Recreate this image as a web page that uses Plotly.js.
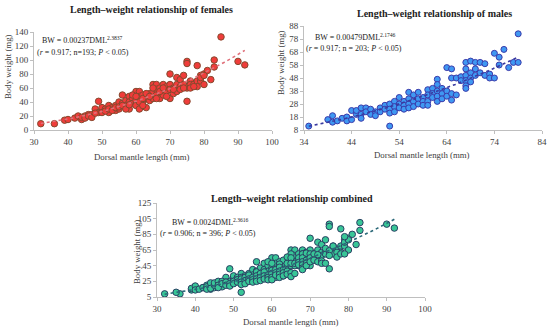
<!DOCTYPE html>
<html>
<head>
<meta charset="utf-8">
<script src="https://cdn.plot.ly/plotly-3.0.1.min.js"></script>
<style>html,body{margin:0;padding:0;background:#fff;}#chart{width:550px;height:331px;}</style>
</head>
<body>
<div id="chart"></div>
<script>
// ---- Data ----
var femaleDML = [32,36,39,40,42,43,44,45,46,47,48,49,49,50,50,51,52,52,53,54,54,55,55,56,56,57,57,58,58,58,59,59,60,60,60,61,61,61,62,62,63,63,64,64,65,65,65,66,66,66,67,67,68,68,68,69,69,70,70,70,70,71,71,72,72,72,73,73,74,74,75,75,75,75,76,76,77,78,78,78,79,79,80,80,81,82,83,83,85,90,92,
  44,45,46,47,48,50,51,52,53,54,55,56,57,58,59,60,61,62,62,63,64,65,66,67,68,69,71,73,74,76,77,79,80];
var femaleBW = [9,9,14,15,17,20,15,20,22,22,30,41,25,28,32,30,35,25,32,28,35,40,30,50,38,42,35,48,40,30,45,38,55,42,35,55,48,30,50,40,45,32,52,42,65,55,45,65,58,50,60,45,65,55,50,62,55,80,65,58,45,60,52,75,65,55,72,62,78,65,98,95,60,41,70,65,65,92,70,62,78,70,80,65,85,72,100,90,133,98,93,
  18,17,20,18,24,25,27,30,28,32,33,35,30,36,50,48,40,45,35,52,48,60,45,55,60,48,58,58,60,60,62,75,78];

var maleDML = [35,39,40,40,41,42,43,43,44,44,45,45,46,46,46,47,47,48,48,49,49,50,50,51,51,52,52,52,52,53,53,53,54,54,54,55,55,55,56,56,56,56,57,57,57,58,58,58,59,59,59,60,60,60,60,61,61,61,62,62,62,62,62,63,63,63,64,64,64,65,65,65,65,66,66,67,67,68,68,68,68,68,68,69,69,69,69,70,70,70,71,71,72,72,73,73,74,74,75,75,76,77,78,79,79];
var maleBW  = [11,16,19,14,15,17,18,15,23,16,20,23,25,20,17,25,22,24,20,22,19,25,22,27,24,28,24,21,11,30,26,22,33,28,25,30,27,24,37,32,28,25,35,30,26,37,32,28,33,30,27,39,35,30,27,40,36,33,47,43,38,34,30,40,36,32,56,38,34,55,48,36,31,48,35,49,46,60,55,50,46,42,40,61,52,48,45,60,55,50,60,52,59,50,51,48,67,48,64,58,70,56,60,82,60];

// Fitted equations shown on the chart: BW = a * DML^b
var femaleFit = {a: 0.00237, b: 2.3837, from: 32, to: 92};
var maleFit   = {a: 0.00479, b: 2.1746, from: 35, to: 79};
var allFit    = {a: 0.0024,  b: 2.3616, from: 32, to: 92};

var titles = ["Length–weight relationship of females", "Length–weight relationship of males", "Length–weight relationship combined"];
var eqLines = [
  ["BW = 0.00237DML<sup>2.3837</sup>", "(<i>r</i> = 0.917; n=193; <i>P</i> &lt; 0.05)"],
  ["BW = 0.00479DML<sup>2.1746</sup>", "(<i>r</i> = 0.917; n = 203; <i>P</i> &lt; 0.05)"],
  ["BW = 0.0024DML<sup>2.3616</sup>", "(<i>r</i> = 0.906; n = 396; <i>P</i> &lt; 0.05)"]
];
var xLabel = "Dorsal mantle length (mm)";
var yLabel = "Body weight (mg)";

// combined = union of both sexes
var allDML = femaleDML.concat(maleDML);
var allBW  = femaleBW.concat(maleBW);

function fitLine(f){
  var xs=[], ys=[];
  for (var i=0;i<=40;i++){ var x=f.from+(f.to-f.from)*i/40; xs.push(x); ys.push(f.a*Math.pow(x,f.b)); }
  return {x:xs, y:ys};
}

var W=550, H=331;
function px(x){return x/W;}
function py(y){return 1-y/H;}

var serif = "Liberation Serif, Times New Roman, serif";
var fl = fitLine(femaleFit), ml = fitLine(maleFit), al = fitLine(allFit);

var traces = [
  {x:femaleDML, y:femaleBW, type:'scatter', mode:'markers', xaxis:'x', yaxis:'y',
   marker:{size:6.5, color:'#f03c3a', line:{color:'#85492e', width:1}}},
  {x:fl.x, y:fl.y, type:'scatter', mode:'lines', xaxis:'x', yaxis:'y',
   line:{color:'#e0707a', width:1.6, dash:'dot'}},
  {x:maleDML, y:maleBW, type:'scatter', mode:'markers', xaxis:'x2', yaxis:'y2',
   marker:{size:6, color:'#3f98f2', line:{color:'#3a3aaa', width:1}}},
  {x:ml.x, y:ml.y, type:'scatter', mode:'lines', xaxis:'x2', yaxis:'y2',
   line:{color:'#3a3aa0', width:1.6, dash:'dot'}},
  {x:allDML, y:allBW, type:'scatter', mode:'markers', xaxis:'x3', yaxis:'y3',
   marker:{size:6.5, color:'#38c697', line:{color:'#2b3f63', width:1}}},
  {x:al.x, y:al.y, type:'scatter', mode:'lines', xaxis:'x3', yaxis:'y3',
   line:{color:'#2a6878', width:1.6, dash:'dot'}}
];

function ax(domain, range, tick0, dtick, anchor){
  return {domain:domain, range:range, tick0:tick0, dtick:dtick, anchor:anchor,
    showgrid:false, zeroline:false, showline:true, linecolor:'#bfbfbf', linewidth:1,
    ticks:'outside', ticklen:3, tickcolor:'#bfbfbf',
    tickfont:{family:serif, size:9, color:'#404040'}, fixedrange:true};
}

var layout = {
  width:W, height:H, margin:{l:0,r:0,t:0,b:0}, showlegend:false,
  paper_bgcolor:'#fff', plot_bgcolor:'rgba(0,0,0,0)',
  xaxis: ax([px(34),px(272)],[30,100],30,10,'y'),
  yaxis: ax([py(130),py(32)],[0,140],0,20,'x'),
  xaxis2: ax([px(304),px(542)],[34,84],34,10,'y2'),
  yaxis2: ax([py(130),py(26)],[8,88],8,10,'x2'),
  xaxis3: ax([px(157),px(425)],[30,100],30,10,'y3'),
  yaxis3: ax([py(297),py(203)],[5,125],5,20,'x3'),
  annotations: []
};

function ann(text,x,y,size,opts){
  var a = {text:text, x:px(x), y:py(y), xref:'paper', yref:'paper', showarrow:false,
    xanchor:'center', yanchor:'middle', font:{family:serif, size:size, color:'#222'}};
  for (var k in opts) a[k]=opts[k];
  layout.annotations.push(a);
}
var labFont = {family:serif, size:8.8, color:'#404040'};
// titles
ann('<b>'+titles[0]+'</b>',151,10,10,{});
ann('<b>'+titles[1]+'</b>',434,13,10,{});
ann('<b>'+titles[2]+'</b>',292,198,10,{});
// axis titles
ann(xLabel,142,157,8.8,{font:labFont});
ann(xLabel,422,155,8.8,{font:labFont});
ann(xLabel,291,322,8.8,{font:labFont});
ann(yLabel,8,67,8.8,{textangle:-90,font:labFont});
ann(yLabel,281,63,8.8,{textangle:-90,font:labFont});
ann(yLabel,137,252,8.8,{textangle:-90,font:labFont});
// equations
ann(eqLines[0][0],82,40,8,{});
ann(eqLines[0][1],83,52,8,{});
ann(eqLines[1][0],355,37,8,{});
ann(eqLines[1][1],354,48,8,{});
ann(eqLines[2][0],211,222,8,{});
ann(eqLines[2][1],208,233,8,{});

Plotly.newPlot('chart', traces, layout, {displayModeBar:false, staticPlot:true});
</script>
</body>
</html>
